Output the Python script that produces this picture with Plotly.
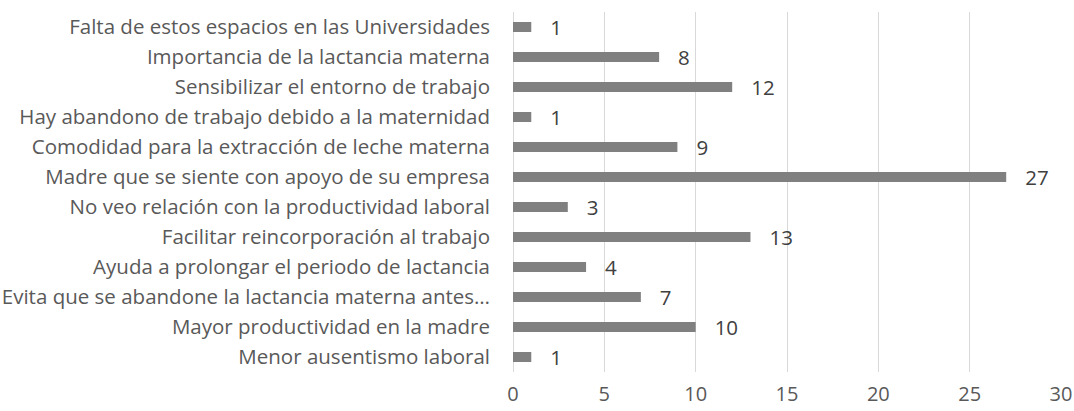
import plotly.graph_objects as go

categories = [
    "Menor ausentismo laboral",
    "Mayor productividad en la madre",
    "Evita que se abandone la lactancia materna antes…",
    "Ayuda a prolongar el periodo de lactancia",
    "Facilitar reincorporación al trabajo",
    "No veo relación con la productividad laboral",
    "Madre que se siente con apoyo de su empresa",
    "Comodidad para la extracción de leche materna",
    "Hay abandono de trabajo debido a la maternidad",
    "Sensibilizar el entorno de trabajo",
    "Importancia de la lactancia materna",
    "Falta de estos espacios en las Universidades",
]
values = [1, 10, 7, 4, 13, 3, 27, 9, 1, 12, 8, 1]
x_ticks = [0, 5, 10, 15, 20, 25, 30]

fig = go.Figure(go.Bar(
    y=categories, x=values, orientation="h",
    marker=dict(color="#808080", line=dict(width=0)),
    text=["   " + str(v) for v in values],
    textposition="outside",
    constraintext="none",
    textfont=dict(color="#404040", size=20.5, family="Open Sans"),
    cliponaxis=False,
))
fig.update_layout(
    width=1074, height=411,
    margin=dict(l=513, r=13, t=12, b=39, autoexpand=False),
    plot_bgcolor="white", paper_bgcolor="white",
    bargap=0.667,
    showlegend=False,
    font=dict(family="Open Sans", color="#595959", size=20.5),
)
fig.update_xaxes(range=[0, 30], tickvals=x_ticks, showgrid=True, gridcolor="#d9d9d9",
                 gridwidth=1, zeroline=True, zerolinecolor="#d9d9d9", zerolinewidth=1,
                 showline=False, automargin=False,
                 tickfont=dict(size=20, color="#595959"), ticklabelstandoff=8)
fig.update_yaxes(categoryorder="array", categoryarray=categories, showgrid=False,
                 showline=False, automargin=False,
                 tickfont=dict(size=20.5, color="#595959"), ticklabelstandoff=22)
fig.write_html("out.html", config={"displayModeBar": False},
               post_script="document.body.style.margin='0px';document.body.style.padding='0px';")
